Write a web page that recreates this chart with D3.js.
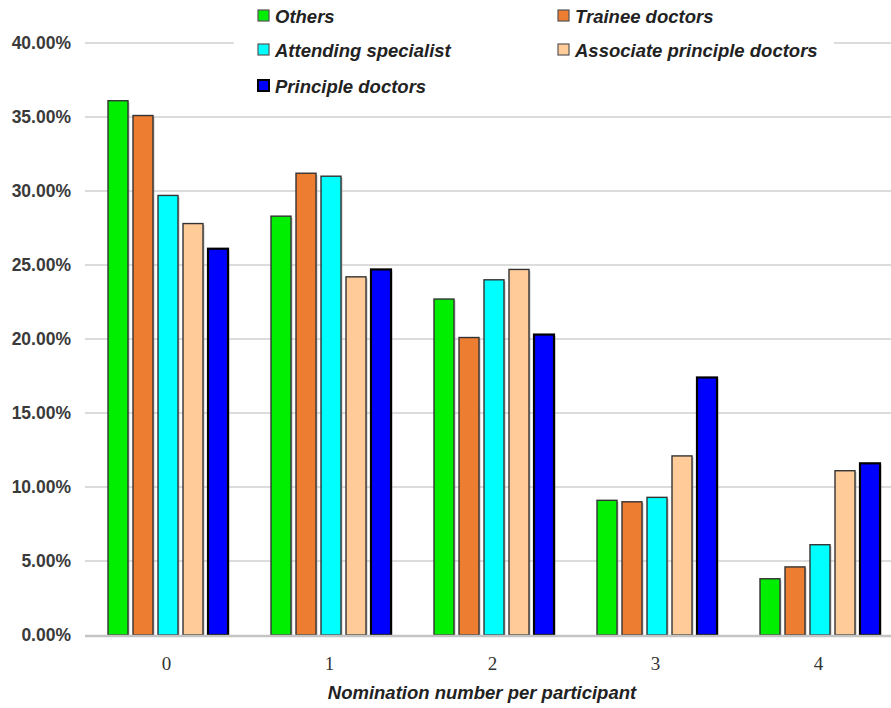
<!DOCTYPE html>
<html>
<head>
<meta charset="utf-8">
<script src="https://cdn.jsdelivr.net/npm/d3@7"></script>
<style>
  html, body { margin: 0; padding: 0; background: #fff; }
  svg { display: block; }
</style>
</head>
<body>
<div id="chart"></div>
<script>
// Share of participants by nomination count, per professional title
const categories = ["0", "1", "2", "3", "4"];
const seriesNames = ["Others", "Trainee doctors", "Attending specialist", "Associate principle doctors", "Principle doctors"];
const seriesColors = ["#00ee00", "#ed7d31", "#00ffff", "#ffcc99", "#0000ff"];
const others     = [36.1, 28.3, 22.7, 9.1, 3.8];
const trainee    = [35.1, 31.2, 20.1, 9.0, 4.6];
const attending  = [29.7, 31.0, 24.0, 9.3, 6.1];
const associate  = [27.8, 24.2, 24.7, 12.1, 11.1];
const principle  = [26.1, 24.7, 20.3, 17.4, 11.6];
const seriesValues = [others, trainee, attending, associate, principle];
const yTicks = [0, 5, 10, 15, 20, 25, 30, 35, 40];
const xTitle = "Nomination number per participant";

const W = 891, H = 708;
const svg = d3.select("#chart").append("svg").attr("width", W).attr("height", H);

const x0 = d3.scaleBand().domain(categories).range([85, 900]).paddingInner(0).paddingOuter(0);
const x1 = d3.scaleBand().domain(d3.range(seriesNames.length)).range([18, 148]).padding(0.2);
const y = d3.scaleLinear().domain([0, 40]).range([635, 43]);

// horizontal grid
svg.append("g").selectAll("line").data(yTicks.filter(t => t > 0)).join("line")
  .attr("x1", 85).attr("x2", W)
  .attr("y1", d => y(d)).attr("y2", d => y(d))
  .attr("stroke", "#d0d0d0").attr("stroke-width", 1.5);

// y tick labels
const yAxis = d3.axisLeft(y).tickValues(yTicks).tickSize(0).tickPadding(0)
  .tickFormat(d => d3.format(".2f")(d) + "%");
const gy = svg.append("g").attr("transform", "translate(71,0)").call(yAxis);
gy.select(".domain").remove();
gy.selectAll("text")
  .attr("font-family", "'Liberation Sans', Arial, sans-serif")
  .attr("font-size", 17.5).attr("font-weight", "bold").attr("fill", "#3a3a3a");

// bars with a faint drop shadow
const groups = svg.append("g").selectAll("g").data(categories).join("g")
  .attr("transform", d => `translate(${x0(d)},0)`);

groups.selectAll("rect.shadow")
  .data((c, ci) => seriesValues.map((vals, si) => ({ si, v: vals[ci] })))
  .join("rect").attr("class", "shadow")
  .attr("x", d => x1(d.si) + 1.5).attr("y", d => y(d.v) + 1.5)
  .attr("width", x1.bandwidth()).attr("height", d => y(0) - y(d.v))
  .attr("fill", "#999").attr("opacity", 0.6);

groups.selectAll("rect.bar")
  .data((c, ci) => seriesValues.map((vals, si) => ({ si, v: vals[ci] })))
  .join("rect").attr("class", "bar")
  .attr("x", d => x1(d.si)).attr("y", d => y(d.v))
  .attr("width", x1.bandwidth()).attr("height", d => y(0) - y(d.v))
  .attr("fill", d => seriesColors[d.si])
  .attr("stroke", d => d.si === 4 ? "#000" : "#333")
  .attr("stroke-width", d => d.si === 4 ? 2.2 : 1.4);

// baseline
svg.append("line").attr("x1", 85).attr("x2", W).attr("y1", y(0) + 1).attr("y2", y(0) + 1)
  .attr("stroke", "#c4c4c4").attr("stroke-width", 2.5);

// x tick labels
const xAxis = d3.axisBottom(x0).tickSize(0).tickPadding(0);
const gx = svg.append("g").attr("transform", "translate(0,656)").call(xAxis);
gx.select(".domain").remove();
gx.selectAll("text")
  .attr("font-family", "'Liberation Serif', 'DejaVu Serif', serif")
  .attr("font-size", 19).attr("fill", "#333");

// x axis title
svg.append("text").attr("x", 482).attr("y", 699).attr("text-anchor", "middle")
  .attr("font-family", "'Liberation Sans', Arial, sans-serif")
  .attr("font-size", 18.5).attr("font-weight", "bold").attr("font-style", "italic")
  .attr("fill", "#222").text(xTitle);

// legend
const legendPos = [
  { x: 257, y: 16 }, { x: 557, y: 16 },
  { x: 257, y: 50 }, { x: 557, y: 50 },
  { x: 257, y: 86 }
];
svg.append("rect").attr("x", 234).attr("y", 0).attr("width", 600).attr("height", 100).attr("fill", "#fff");
const lg = svg.append("g").selectAll("g").data(seriesNames).join("g")
  .attr("transform", (d, i) => `translate(${legendPos[i].x},${legendPos[i].y})`);
lg.append("rect").attr("x", 1).attr("y", -6).attr("width", 11).attr("height", 11)
  .attr("fill", (d, i) => seriesColors[i])
  .attr("stroke", (d, i) => i === 4 ? "#000" : "#555").attr("stroke-width", (d, i) => i === 4 ? 2 : 1.2);
lg.append("text").attr("x", 18).attr("y", 6.5)
  .attr("font-family", "'Liberation Sans', Arial, sans-serif")
  .attr("font-size", 18.5).attr("font-weight", "bold").attr("font-style", "italic")
  .attr("fill", "#222").text(d => d);
</script>
</body>
</html>
